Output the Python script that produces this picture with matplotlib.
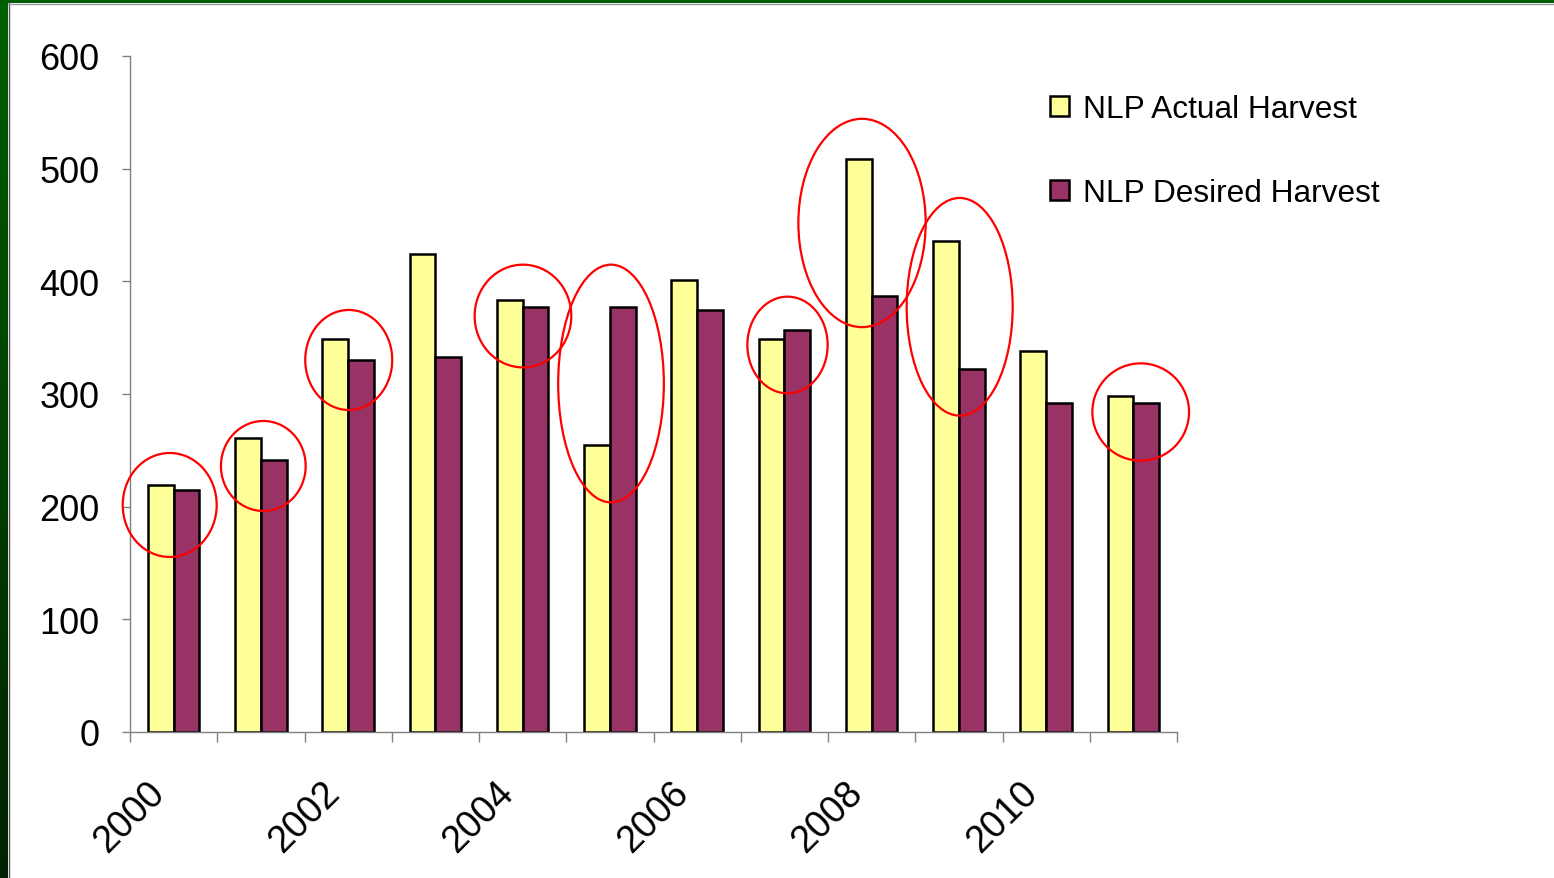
import matplotlib
matplotlib.use("Agg")
import matplotlib.pyplot as plt
import matplotlib.transforms as mtransforms
from matplotlib.patches import Ellipse, Rectangle
import numpy as np

plt.rcParams['font.family'] = ['Liberation Sans', 'DejaVu Sans']

years = list(range(2000, 2012))
actual = [219, 261, 349, 424, 383, 255, 401, 349, 509, 436, 338, 298]
desired = [215, 241, 330, 333, 377, 377, 375, 357, 387, 322, 292, 292]
tick_labels = ['2000', '', '2002', '', '2004', '', '2006', '', '2008', '', '2010', '', '']

# red rings drawn on the chart (category position, value, width, height)
ring_x = [0.455, 1.528, 2.507, 4.504, 5.513, 7.536, 8.390, 9.509, 11.584]
ring_y = [201.5, 236.1, 330.2, 369.2, 309.3, 343.5, 451.8, 377.4, 284.0]
ring_w = [1.077, 0.971, 0.997, 1.108, 1.211, 0.920, 1.459, 1.215, 1.108]
ring_h = [92.3, 79.9, 88.8, 91.2, 211.0, 85.8, 184.9, 193.2, 86.4]

W, H = 1554, 879
fig = plt.figure(figsize=(W / 100, H / 100), dpi=100)
fig.patch.set_facecolor('white')

# green frame on the left and top
bg = fig.add_axes([0, 0, 1, 1], zorder=-10)
bg.set_xlim(0, W)
bg.set_ylim(H, 0)
bg.axis('off')
grad = np.linspace(0, 1, 256).reshape(-1, 1)
green = matplotlib.colors.LinearSegmentedColormap.from_list('g', ['#006000', '#004000', '#002200'])
bg.imshow(grad, cmap=green, extent=(0, 8, H, 0), aspect='auto')
bg.add_patch(Rectangle((0, 0), W, 4, color='#005c00', lw=0))
bg.plot([8.5, 8.5], [4, H], color='#555555', lw=1)
bg.plot([8, W], [4.5, 4.5], color='#999999', lw=1)

ax = fig.add_axes([130 / W, 1 - 733 / H, (1177 - 130) / W, (733 - 57) / H])
x = np.arange(len(years)) + 0.5
bw = 0.295
ax.bar(x - bw / 2, actual, bw, color='#FFFF99', edgecolor='black', lw=1.8,
       label='NLP Actual Harvest', zorder=2)
ax.bar(x + bw / 2, desired, bw, color='#993366', edgecolor='black', lw=1.8,
       label='NLP Desired Harvest', zorder=2)

for cx, cy, w, h in zip(ring_x, ring_y, ring_w, ring_h):
    ax.add_patch(Ellipse((cx, cy), w, h, fill=False, edgecolor='#FF0000', lw=1.6,
                         zorder=3, clip_on=False))

ax.set_xlim(0, 12)
ax.set_ylim(0, 600)
ax.set_yticks(range(0, 601, 100))
ax.set_xticks(range(0, 13))
ax.set_xticklabels(tick_labels, rotation=45, ha='center', fontsize=27)
offset = mtransforms.ScaledTranslation(-11 / 100, 0, fig.dpi_scale_trans)
for lab in ax.get_xticklabels():
    lab.set_transform(lab.get_transform() + offset)
ax.tick_params(axis='y', labelsize=26, length=6, width=1, color='#808080', pad=16)
ax.tick_params(axis='x', length=7.5, width=1, color='#808080', pad=23)
for s in ['top', 'right']:
    ax.spines[s].set_visible(False)
for s in ['left', 'bottom']:
    ax.spines[s].set_color('#808080')
    ax.spines[s].set_linewidth(1)

ax.legend(loc='upper left', bbox_to_anchor=(1050 / W, 1 - 95 / H), bbox_transform=fig.transFigure,
          frameon=False, fontsize=22.8, handlelength=0.6, handleheight=0.6,
          handletextpad=0.45, labelspacing=1.72, borderpad=0, borderaxespad=0)

fig.savefig('out.png', dpi=100)
